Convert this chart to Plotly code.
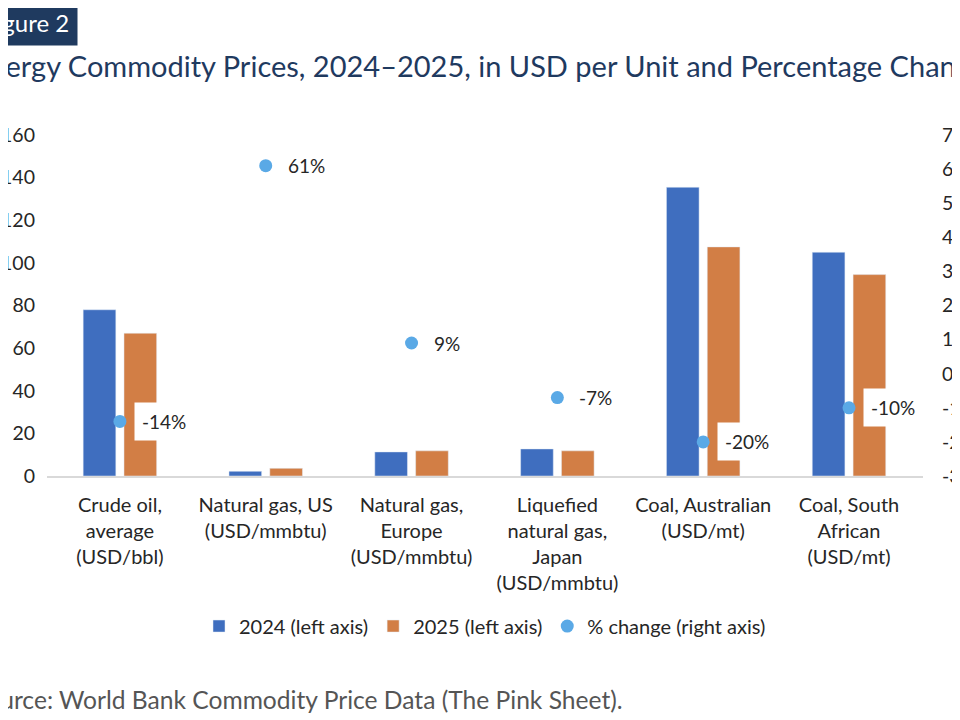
import plotly.graph_objects as go

# data
categories = [
    "Crude oil,<br>average<br>(USD/bbl)",
    "Natural gas, US<br>(USD/mmbtu)",
    "Natural gas,<br>Europe<br>(USD/mmbtu)",
    "Liquefied<br>natural gas,<br>Japan<br>(USD/mmbtu)",
    "Coal, Australian<br>(USD/mt)",
    "Coal, South<br>African<br>(USD/mt)",
]
prices_2024 = [78.0, 2.2, 11.3, 12.7, 135.5, 105.0]
prices_2025 = [67.0, 3.6, 11.8, 11.8, 107.5, 94.5]
pct_change = [-14, 61, 9, -7, -20, -10]

left_ticks = [0, 20, 40, 60, 80, 100, 120, 140, 160]
right_ticks = [-30, -20, -10, 0, 10, 20, 30, 40, 50, 60, 70]
right_labels = [f"{v}%" for v in right_ticks]

BLUE = "#3f6ebf"
ORANGE = "#d27e45"
DOT = "#5aa9e6"
NAVY = "#1f3a5f"
TXT = "#262626"
FONT = "Lato"

# page body has an 8px margin, so everything is placed 8px up/left
W, H = 960, 720
L, T = 39, 127
R = W - 915
B = H - 468


def sx(px):
    # figure pixel x -> shift from paper x=0
    return px - L


def sy(py):
    # figure pixel y -> shift from paper y=1
    return T - py


fig = go.Figure()
fig.add_trace(go.Bar(x=categories, y=prices_2024, name="2024 (left axis)",
                     marker_color=BLUE))
fig.add_trace(go.Bar(x=categories, y=prices_2025, name="2025 (left axis)",
                     marker_color=ORANGE))
fig.add_trace(go.Scatter(x=categories, y=pct_change, name="% change (right axis)",
                         mode="markers", yaxis="y2",
                         marker=dict(color=DOT, size=13)))

# percentage labels with white box, like the Excel data labels
for cat, v in zip(categories, pct_change):
    fig.add_annotation(x=cat, y=v, xref="x", yref="y2", text=f"{v}%",
                       showarrow=False, xanchor="left", xshift=14,
                       bgcolor="white", borderpad=7,
                       font=dict(size=19, color=TXT, family=FONT))

# cropped header, title and source
fig.add_annotation(x=0, y=1, xref="paper", yref="paper", xanchor="right", yanchor="middle",
                   xshift=sx(70), yshift=sy(14), text="Figure 2", showarrow=False,
                   bgcolor=NAVY, borderpad=8,
                   font=dict(size=24, color="white", family=FONT))
fig.add_annotation(x=0, y=1, xref="paper", yref="paper", xanchor="left", yanchor="middle",
                   xshift=sx(-37), yshift=sy(57), showarrow=False,
                   text="Energy Commodity Prices, 2024\u20132025, in USD per Unit and Percentage Change",
                   font=dict(size=29, color=NAVY, family=FONT))
fig.add_annotation(x=0, y=1, xref="paper", yref="paper", xanchor="left", yanchor="middle",
                   xshift=sx(-37), yshift=sy(691), showarrow=False,
                   text="Source: World Bank Commodity Price Data (The Pink Sheet).",
                   font=dict(size=24.6, color="#555555", family=FONT))

fig.update_layout(
    width=W, height=H,
    margin=dict(l=L, r=R, t=T, b=B, autoexpand=False),
    paper_bgcolor="white", plot_bgcolor="white",
    barmode="group", bargap=0.44, bargroupgap=0.2,
    font=dict(family=FONT, size=19, color=TXT),
    showlegend=True,
    legend=dict(orientation="h", x=0.5, xanchor="center", y=-0.44, yanchor="middle",
                font=dict(size=20, color=TXT), traceorder="normal"),
    xaxis=dict(showline=True, linecolor="#d9d9d9", linewidth=1.5, ticks="",
               showgrid=False, ticklabelstandoff=10, automargin=False,
               tickfont=dict(size=20, color=TXT)),
    yaxis=dict(range=[0, 160], tickvals=left_ticks, showgrid=False, zeroline=False,
               showline=False, ticklabelstandoff=11, automargin=False,
               tickfont=dict(size=19.5, color=TXT)),
    yaxis2=dict(range=[-30, 70], overlaying="y", side="right", tickvals=right_ticks,
                ticktext=right_labels, showgrid=False, zeroline=False, showline=False,
                ticklabelstandoff=18, automargin=False,
                tickfont=dict(size=19.5, color=TXT)),
)

fig.write_html("out.html")
